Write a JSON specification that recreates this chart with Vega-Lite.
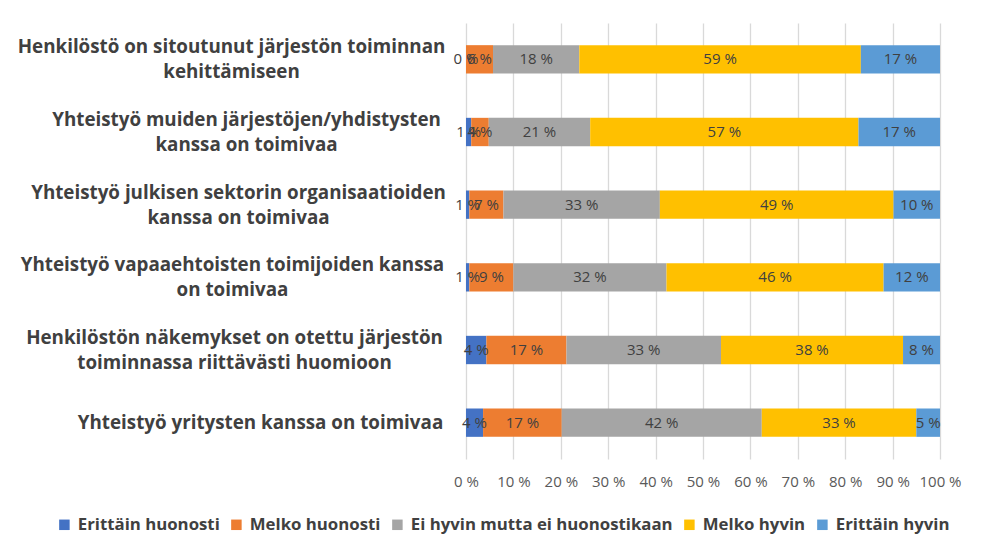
{
  "$schema": "https://vega.github.io/schema/vega-lite/v6.json",
  "width": 474,
  "height": 436,
  "autosize": {"type": "none"},
  "padding": {"left": 466, "top": 23, "right": 48, "bottom": 99},
  "background": "white",
  "config": {"view": {"stroke": null}, "font": "Open Sans"},
  "data": {
    "values": [
      {"q": "Henkilöstö on sitoutunut järjestön toiminnan|kehittämiseen", "k": "Erittäin huonosti", "o": 1, "v": 0},
      {"q": "Henkilöstö on sitoutunut järjestön toiminnan|kehittämiseen", "k": "Melko huonosti", "o": 2, "v": 5.7},
      {"q": "Henkilöstö on sitoutunut järjestön toiminnan|kehittämiseen", "k": "Ei hyvin mutta ei huonostikaan", "o": 3, "v": 18.2},
      {"q": "Henkilöstö on sitoutunut järjestön toiminnan|kehittämiseen", "k": "Melko hyvin", "o": 4, "v": 59.4},
      {"q": "Henkilöstö on sitoutunut järjestön toiminnan|kehittämiseen", "k": "Erittäin hyvin", "o": 5, "v": 16.7},
      {"q": "Yhteistyö muiden järjestöjen/yhdistysten|kanssa on toimivaa", "k": "Erittäin huonosti", "o": 1, "v": 1.1},
      {"q": "Yhteistyö muiden järjestöjen/yhdistysten|kanssa on toimivaa", "k": "Melko huonosti", "o": 2, "v": 3.7},
      {"q": "Yhteistyö muiden järjestöjen/yhdistysten|kanssa on toimivaa", "k": "Ei hyvin mutta ei huonostikaan", "o": 3, "v": 21.4},
      {"q": "Yhteistyö muiden järjestöjen/yhdistysten|kanssa on toimivaa", "k": "Melko hyvin", "o": 4, "v": 56.6},
      {"q": "Yhteistyö muiden järjestöjen/yhdistysten|kanssa on toimivaa", "k": "Erittäin hyvin", "o": 5, "v": 17.2},
      {"q": "Yhteistyö julkisen sektorin organisaatioiden|kanssa on toimivaa", "k": "Erittäin huonosti", "o": 1, "v": 0.7},
      {"q": "Yhteistyö julkisen sektorin organisaatioiden|kanssa on toimivaa", "k": "Melko huonosti", "o": 2, "v": 7.2},
      {"q": "Yhteistyö julkisen sektorin organisaatioiden|kanssa on toimivaa", "k": "Ei hyvin mutta ei huonostikaan", "o": 3, "v": 33.0},
      {"q": "Yhteistyö julkisen sektorin organisaatioiden|kanssa on toimivaa", "k": "Melko hyvin", "o": 4, "v": 49.3},
      {"q": "Yhteistyö julkisen sektorin organisaatioiden|kanssa on toimivaa", "k": "Erittäin hyvin", "o": 5, "v": 9.8},
      {"q": "Yhteistyö vapaaehtoisten toimijoiden kanssa|on toimivaa", "k": "Erittäin huonosti", "o": 1, "v": 0.7},
      {"q": "Yhteistyö vapaaehtoisten toimijoiden kanssa|on toimivaa", "k": "Melko huonosti", "o": 2, "v": 9.3},
      {"q": "Yhteistyö vapaaehtoisten toimijoiden kanssa|on toimivaa", "k": "Ei hyvin mutta ei huonostikaan", "o": 3, "v": 32.3},
      {"q": "Yhteistyö vapaaehtoisten toimijoiden kanssa|on toimivaa", "k": "Melko hyvin", "o": 4, "v": 45.8},
      {"q": "Yhteistyö vapaaehtoisten toimijoiden kanssa|on toimivaa", "k": "Erittäin hyvin", "o": 5, "v": 11.9},
      {"q": "Henkilöstön näkemykset on otettu järjestön|toiminnassa riittävästi huomioon", "k": "Erittäin huonosti", "o": 1, "v": 4.3},
      {"q": "Henkilöstön näkemykset on otettu järjestön|toiminnassa riittävästi huomioon", "k": "Melko huonosti", "o": 2, "v": 16.9},
      {"q": "Henkilöstön näkemykset on otettu järjestön|toiminnassa riittävästi huomioon", "k": "Ei hyvin mutta ei huonostikaan", "o": 3, "v": 32.6},
      {"q": "Henkilöstön näkemykset on otettu järjestön|toiminnassa riittävästi huomioon", "k": "Melko hyvin", "o": 4, "v": 38.4},
      {"q": "Henkilöstön näkemykset on otettu järjestön|toiminnassa riittävästi huomioon", "k": "Erittäin hyvin", "o": 5, "v": 7.8},
      {"q": "Yhteistyö yritysten kanssa on toimivaa", "k": "Erittäin huonosti", "o": 1, "v": 3.6},
      {"q": "Yhteistyö yritysten kanssa on toimivaa", "k": "Melko huonosti", "o": 2, "v": 16.6},
      {"q": "Yhteistyö yritysten kanssa on toimivaa", "k": "Ei hyvin mutta ei huonostikaan", "o": 3, "v": 42.2},
      {"q": "Yhteistyö yritysten kanssa on toimivaa", "k": "Melko hyvin", "o": 4, "v": 32.6},
      {"q": "Yhteistyö yritysten kanssa on toimivaa", "k": "Erittäin hyvin", "o": 5, "v": 5.0}
    ]
  },
  "transform": [
    {"stack": "v", "groupby": ["q"], "sort": [{"field": "o", "order": "ascending"}], "as": ["x0", "x1"]},
    {"calculate": "(datum.x0 + datum.x1) / 2", "as": "mid"},
    {"calculate": "format(datum.v, '.0f') + ' %'", "as": "lbl"}
  ],
  "encoding": {
    "y": {
      "field": "q",
      "type": "nominal",
      "sort": null,
      "title": null,
      "scale": {"paddingInner": 0.61, "paddingOuter": 0.305},
      "axis": {
        "labelExpr": "split(datum.label, '|')",
        "labelFont": "Open Sans",
        "labelFontWeight": "bold",
        "labelFontSize": 18.8,
        "labelColor": "#404040",
        "labelLineHeight": 25,
        "labelLimit": 470,
        "labelAlign": "center",
        "labelOffset": {
          "condition": {"test": "datum.value != 'Yhteistyö yritysten kanssa on toimivaa'", "value": -12},
          "value": 0
        },
        "labelPadding": {
          "condition": [
            {"test": "datum.value == 'Henkilöstö on sitoutunut järjestön toiminnan|kehittämiseen'", "value": 235},
            {"test": "datum.value == 'Yhteistyö muiden järjestöjen/yhdistysten|kanssa on toimivaa'", "value": 220},
            {"test": "datum.value == 'Yhteistyö julkisen sektorin organisaatioiden|kanssa on toimivaa'", "value": 228},
            {"test": "datum.value == 'Yhteistyö vapaaehtoisten toimijoiden kanssa|on toimivaa'", "value": 234},
            {"test": "datum.value == 'Henkilöstön näkemykset on otettu järjestön|toiminnassa riittävästi huomioon'", "value": 232}
          ],
          "value": 206
        },
        "ticks": false,
        "domain": false,
        "grid": false
      }
    }
  },
  "layer": [
    {
      "mark": {"type": "bar"},
      "encoding": {
        "x": {
          "field": "x0",
          "type": "quantitative",
          "scale": {"domain": [0, 100], "nice": false},
          "title": null,
          "axis": {
            "values": [0, 10, 20, 30, 40, 50, 60, 70, 80, 90, 100],
            "labelExpr": "datum.value + ' %'",
            "labelFont": "Open Sans",
            "labelFontSize": 15,
            "labelColor": "#595959",
            "labelPadding": 15,
            "labelOverlap": false,
            "labelFlush": false,
            "ticks": false,
            "domain": false,
            "grid": true,
            "gridColor": "#D9D9D9",
            "gridWidth": 1.3
          }
        },
        "x2": {"field": "x1"},
        "color": {
          "field": "k",
          "type": "nominal",
          "scale": {
            "domain": ["Erittäin huonosti", "Melko huonosti", "Ei hyvin mutta ei huonostikaan", "Melko hyvin", "Erittäin hyvin"],
            "range": ["#4472C4", "#ED7D31", "#A5A5A5", "#FFC000", "#5B9BD5"]
          },
          "legend": {
            "title": null,
            "orient": "none",
            "direction": "horizontal",
            "legendX": -410,
            "legendY": 493,
            "symbolType": "square",
            "symbolSize": 110,
            "symbolStrokeWidth": 0,
            "labelFont": "Open Sans",
            "labelFontWeight": "bold",
            "labelFontSize": 16.8,
            "labelColor": "#404040",
            "labelOffset": 5,
            "columnPadding": 8,
            "labelLimit": 400
          }
        }
      }
    },
    {
      "mark": {"type": "text", "fontSize": 15, "color": "#404040", "font": "Open Sans"},
      "encoding": {
        "x": {"field": "mid", "type": "quantitative"},
        "text": {"field": "lbl"}
      }
    }
  ]
}
